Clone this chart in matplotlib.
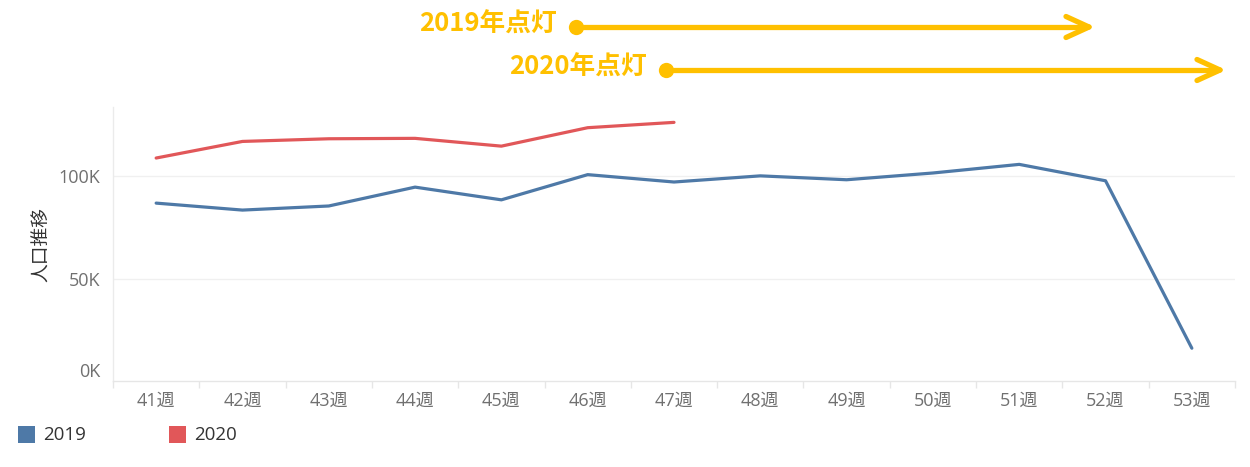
import matplotlib
matplotlib.use("Agg")
import matplotlib.pyplot as plt
from matplotlib.lines import Line2D
from matplotlib.patches import Rectangle
from matplotlib.ticker import FixedLocator

weeks = ["41週", "42週", "43週", "44週", "45週", "46週", "47週",
         "48週", "49週", "50週", "51週", "52週", "53週"]
values_2019 = [86.8, 83.4, 85.4, 94.6, 88.4, 100.7, 97.1, 100.1, 98.2, 101.5, 105.7, 97.7, 16.0]
values_2020 = [108.8, 116.9, 118.2, 118.4, 114.6, 123.6, 126.2]
series_names = ["2019", "2020"]
yticks = [0, 50, 100]
ytick_labels = ["0K", "50K", "100K"]

C2019 = "#4E79A7"
C2020 = "#E15759"
GOLD = "#FFC000"
FONT = ["Open Sans", "Noto Sans CJK JP", "DejaVu Sans"]
CJK = ["Noto Sans CJK JP", "DejaVu Sans"]

plt.rcParams["font.family"] = FONT

W, H = 1250, 467
fig = plt.figure(figsize=(W / 100, H / 100), dpi=100)
ax = fig.add_axes([113 / W, 1 - 381 / H, (1235 - 113) / W, (381 - 107) / H])

x = list(range(len(weeks)))
ax.plot(x, values_2019, color=C2019, lw=2.3, solid_joinstyle="round", solid_capstyle="round", zorder=3)
ax.plot(x[:len(values_2020)], values_2020, color=C2020, lw=2.3, solid_joinstyle="round", solid_capstyle="round", zorder=3)

ax.set_xlim(-0.5, len(weeks) - 0.5)
ax.set_ylim(0, 133.7)

for s in ["top", "right"]:
    ax.spines[s].set_visible(False)
ax.spines["left"].set_color("#ebebeb")
ax.spines["bottom"].set_color("#e6e6e6")
ax.spines["left"].set_linewidth(1)
ax.spines["bottom"].set_linewidth(1)

ax.set_yticks(yticks)
ax.set_yticklabels(ytick_labels)
ax.tick_params(axis="y", length=0, pad=9, labelsize=13, labelcolor="#707070")
for t in ax.get_yticklabels():
    if t.get_text() == "0K":
        t.set_va("bottom")
for yv in yticks[1:]:
    ax.axhline(yv, color="#f0f0f0", lw=1, zorder=1)

ax.set_xticks(x)
ax.set_xticklabels(weeks)
ax.tick_params(axis="x", which="major", length=0, pad=8, labelsize=13, labelcolor="#707070")
ax.xaxis.set_minor_locator(FixedLocator([i - 0.5 for i in range(len(weeks) + 1)]))
ax.tick_params(axis="x", which="minor", length=5, color="#e6e6e6", width=1)

ax.set_ylabel("人口推移", family=CJK, fontsize=13.5, color="#333333", labelpad=5)

# legend
def fx(px):
    return px / W

def fy(py):
    return 1 - py / H

for name, col, x0 in [(series_names[0], C2019, 18), (series_names[1], C2020, 169)]:
    fig.patches.append(Rectangle((fx(x0), fy(443)), 17 / W, 17 / H, transform=fig.transFigure,
                                 facecolor=col, edgecolor="none"))
    fig.text(fx(x0 + 25), fy(435), name, fontsize=13.5, color="#333333", va="center", ha="left")

# lighting period annotations
for label, tx, ty, dot_x, tip_x in [("2019年点灯", 557, 24, 576, 1089),
                                    ("2020年点灯", 647, 67, 666, 1220)]:
    yy = ty + 3
    fig.text(fx(tx), fy(ty), label, family=CJK, fontweight="bold", fontsize=18.5,
             color=GOLD, ha="right", va="center")
    fig.lines.append(Line2D([fx(dot_x), fx(tip_x - 2)], [fy(yy), fy(yy)], transform=fig.transFigure,
                            color=GOLD, lw=3.8, solid_capstyle="butt"))
    for dy in (-10.5, 10.5):
        fig.lines.append(Line2D([fx(tip_x - 23), fx(tip_x)], [fy(yy + dy), fy(yy)], transform=fig.transFigure,
                                color=GOLD, lw=3.8, solid_capstyle="round"))
    fig.lines.append(Line2D([fx(dot_x)], [fy(yy)], transform=fig.transFigure, marker="o",
                            markersize=11, color=GOLD, markeredgewidth=0))

fig.savefig("out.png", dpi=100)
